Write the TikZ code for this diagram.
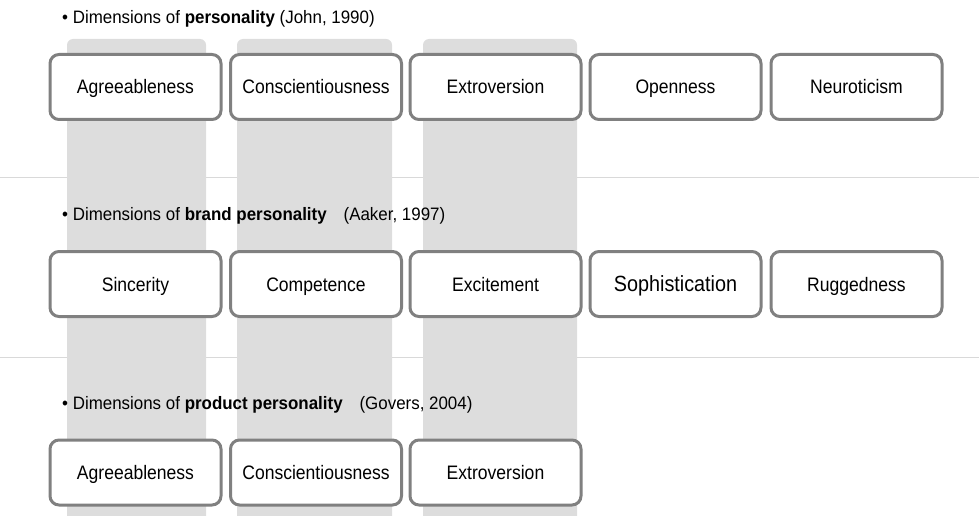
\documentclass[tikz,border=0pt]{standalone}
\usepackage{fontspec}
\setmainfont{Liberation Sans}
\usepackage{graphicx}
\newcommand{\nrwtxt}[2][0.92]{\scalebox{#1}[1]{#2}}
\definecolor{boxgray}{RGB}{128,128,128}
\definecolor{colfill}{RGB}{221,221,221}
\definecolor{sepgray}{RGB}{217,217,217}
\tikzset{
  dimbox/.style={draw=boxgray, line width=3pt, fill=white, rounded corners=9pt,
    minimum width=171pt, minimum height=65pt, inner sep=0pt,
    text height=14pt, text depth=0pt, font=\fontsize{19.5}{22}\selectfont},
  headtxt/.style={anchor=base west, inner sep=0pt, font=\fontsize{18}{20}\selectfont},
  sepline/.style={draw=sepgray, line width=1pt},
  colband/.style={fill=colfill, rounded corners=6pt}
}
\begin{document}
\begin{tikzpicture}[x=1pt,y=-1pt]
\useasboundingbox (0,0) rectangle (979,516);
% separator lines
\draw[sepline] (0,177) -- (979,177);
\draw[sepline] (0,357) -- (979,357);
% grey bands
\fill[colband] (67,540) -- (67,39) -- (206,39) -- (206,540) -- cycle;
\fill[colband] (237,540) -- (237,39) -- (392,39) -- (392,540) -- cycle;
\fill[colband] (423,540) -- (423,39) -- (577,39) -- (577,540) -- cycle;
% headings
\node[headtxt] (h1) at (62,24) {\nrwtxt[0.94]{\textbullet\ Dimensions of \textbf{personality} (John, 1990)}};
\node[headtxt] (h2) at (62,220) {\nrwtxt[0.94]{\textbullet\ Dimensions of \textbf{brand personality}\hspace{18pt}(Aaker, 1997)}};
\node[headtxt] (h3) at (62,409) {\nrwtxt[0.94]{\textbullet\ Dimensions of \textbf{product personality}\hspace{18pt}(Govers, 2004)}};
% row 1
\node[dimbox] (p1) at (135.5,87) {\nrwtxt[0.9]{Agreeableness}};
\node[dimbox] (p2) at (316,87) {\nrwtxt[0.9]{Conscientiousness}};
\node[dimbox] (p3) at (495.5,87) {\nrwtxt[0.9]{Extroversion}};
\node[dimbox] (p4) at (675.5,87) {\nrwtxt[0.9]{Openness}};
\node[dimbox] (p5) at (856.5,87) {\nrwtxt[0.9]{Neuroticism}};
% row 2
\node[dimbox] (b1) at (135.5,284) {\nrwtxt[0.9]{Sincerity}};
\node[dimbox] (b2) at (316,284) {\nrwtxt[0.9]{Competence}};
\node[dimbox] (b3) at (495.5,284) {\nrwtxt[0.9]{Excitement}};
\node[dimbox, font=\fontsize{22}{25}\selectfont] (b4) at (675.5,284) {\nrwtxt[0.9]{Sophistication}};
\node[dimbox] (b5) at (856.5,284) {\nrwtxt[0.9]{Ruggedness}};
% row 3
\node[dimbox] (g1) at (135.5,472.5) {\nrwtxt[0.9]{Agreeableness}};
\node[dimbox] (g2) at (316,472.5) {\nrwtxt[0.9]{Conscientiousness}};
\node[dimbox] (g3) at (495.5,472.5) {\nrwtxt[0.9]{Extroversion}};
\end{tikzpicture}
\end{document}
